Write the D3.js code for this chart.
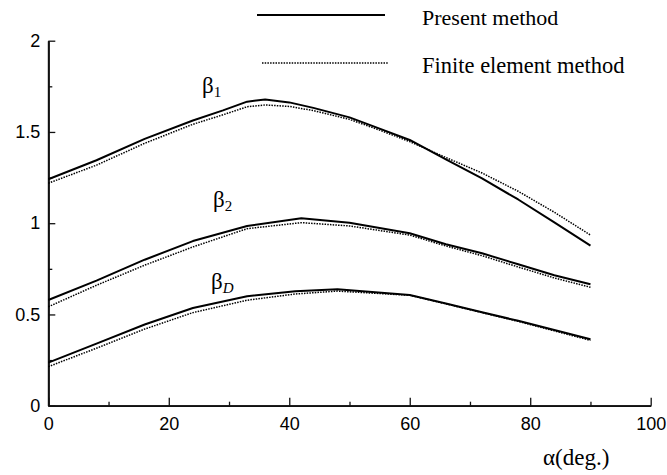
<!DOCTYPE html>
<html>
<head>
<meta charset="utf-8">
<script src="https://cdn.jsdelivr.net/npm/d3@7"></script>
<style>
  html, body { margin: 0; padding: 0; background: #fff; }
  svg { display: block; }
</style>
</head>
<body>
<svg id="chart" width="667" height="475"></svg>
<script>
// ---- data ----
const alphaB1 = [0, 8, 16, 24, 29, 33, 36, 40, 44, 50, 55, 60, 66, 72, 78, 84, 90];
const b1Present = [1.241, 1.345, 1.462, 1.563, 1.618, 1.666, 1.678, 1.662, 1.632, 1.58, 1.518, 1.456, 1.35, 1.245, 1.13, 1.005, 0.877];
const b1FEM     = [1.219, 1.318, 1.438, 1.542, 1.594, 1.638, 1.648, 1.64, 1.617, 1.569, 1.51, 1.447, 1.36, 1.275, 1.175, 1.06, 0.935];

const alphaB2 = [0, 8, 16, 24, 33, 42, 50, 60, 66, 72, 78, 84, 90];
const b2Present = [0.579, 0.685, 0.80, 0.902, 0.985, 1.027, 1.003, 0.945, 0.885, 0.835, 0.775, 0.715, 0.665];
const b2FEM     = [0.542, 0.66, 0.77, 0.87, 0.97, 1.003, 0.985, 0.935, 0.875, 0.822, 0.76, 0.70, 0.649];

const alphaBD = [0, 8, 16, 24, 33, 41, 48, 60, 66, 72, 78, 84, 90];
const bDPresent = [0.236, 0.34, 0.445, 0.535, 0.60, 0.627, 0.638, 0.607, 0.56, 0.512, 0.465, 0.415, 0.364];
const bDFEM     = [0.214, 0.315, 0.42, 0.51, 0.578, 0.612, 0.628, 0.605, 0.558, 0.51, 0.462, 0.41, 0.358];

const xTicks = [0, 20, 40, 60, 80, 100];
const xMinorTicks = [10, 30, 50, 70, 90];
const yTicks = [0, 0.5, 1, 1.5, 2];
const yMinorTicks = [0.25, 0.75, 1.25, 1.75];
const legendLabels = ["Present method", "Finite element method"];
const xTitle = "α(deg.)";

// ---- layout ----
const svg = d3.select("#chart");
const x = d3.scaleLinear().domain([0, 100]).range([48.3, 650.7]);
const y = d3.scaleLinear().domain([0, 2]).range([405.7, 40.7]);

const tickFont = "'Liberation Sans', Arial, sans-serif";
const serif = "'Liberation Serif', 'Times New Roman', serif";

function styleAxis(g) {
  g.select(".domain").attr("stroke", "#111").attr("stroke-width", 1.8);
  g.selectAll(".tick line").attr("stroke", "#111").attr("stroke-width", 1.3);
  g.selectAll("text").attr("font-family", tickFont).attr("font-size", 18).attr("fill", "#000");
}

// y axis
svg.append("g").attr("transform", `translate(${x(0)},0)`)
  .call(d3.axisLeft(y).tickValues(yMinorTicks).tickSize(-4).tickSizeOuter(0).tickFormat(""))
  .call(styleAxis);
svg.append("g").attr("transform", `translate(${x(0)},0)`)
  .call(d3.axisLeft(y).tickValues(yTicks).tickSize(-7).tickSizeOuter(0).tickPadding(8).tickFormat(d3.format("")))
  .call(styleAxis);

// x axis
svg.append("g").attr("transform", `translate(0,${y(0)})`)
  .call(d3.axisBottom(x).tickValues(xMinorTicks).tickSize(-4).tickSizeOuter(0).tickFormat(""))
  .call(styleAxis);
svg.append("g").attr("transform", `translate(0,${y(0)})`)
  .call(d3.axisBottom(x).tickValues(xTicks).tickSize(-8).tickSizeOuter(0).tickPadding(12).tickFormat(d3.format("")))
  .call(styleAxis);

// curves
const line = d3.line().x(d => x(d[0])).y(d => y(d[1]));
const series = [
  [alphaB1, b1Present, false], [alphaB1, b1FEM, true],
  [alphaB2, b2Present, false], [alphaB2, b2FEM, true],
  [alphaBD, bDPresent, false], [alphaBD, bDFEM, true]
];
series.forEach(([a, v, dotted]) => {
  svg.append("path")
    .datum(a.map((d, i) => [d, v[i]]))
    .attr("d", line)
    .attr("fill", "none")
    .attr("stroke", "#000")
    .attr("stroke-width", dotted ? 1.5 : 2)
    .attr("stroke-linejoin", "round")
    .attr("stroke-dasharray", dotted ? "1.5,1.2" : null);
});

// curve labels
function betaLabel(px, py, sub, italic) {
  const t = svg.append("text").attr("x", px).attr("y", py)
    .attr("font-family", serif).attr("font-size", 23).attr("fill", "#000");
  t.append("tspan").text("β");
  t.append("tspan").attr("dy", 4).attr("font-size", 15)
    .attr("font-style", italic ? "italic" : null).text(sub);
}
betaLabel(202, 93, "1", false);
betaLabel(213, 207, "2", false);
betaLabel(211, 289, "D", true);

// legend
svg.append("line").attr("x1", 257).attr("x2", 385).attr("y1", 15).attr("y2", 15)
  .attr("stroke", "#000").attr("stroke-width", 2);
svg.append("line").attr("x1", 262).attr("x2", 388).attr("y1", 63).attr("y2", 63)
  .attr("stroke", "#000").attr("stroke-width", 1.5).attr("stroke-dasharray", "1.5,1.2");
svg.append("text").attr("x", 422).attr("y", 25).attr("font-family", serif).attr("font-size", 22)
  .text(legendLabels[0]);
svg.append("text").attr("x", 422).attr("y", 73).attr("font-family", serif).attr("font-size", 22.5)
  .text(legendLabels[1]);

// x title
svg.append("text").attr("x", 543).attr("y", 465).attr("font-family", serif).attr("font-size", 23)
  .text(xTitle);
</script>
</body>
</html>
